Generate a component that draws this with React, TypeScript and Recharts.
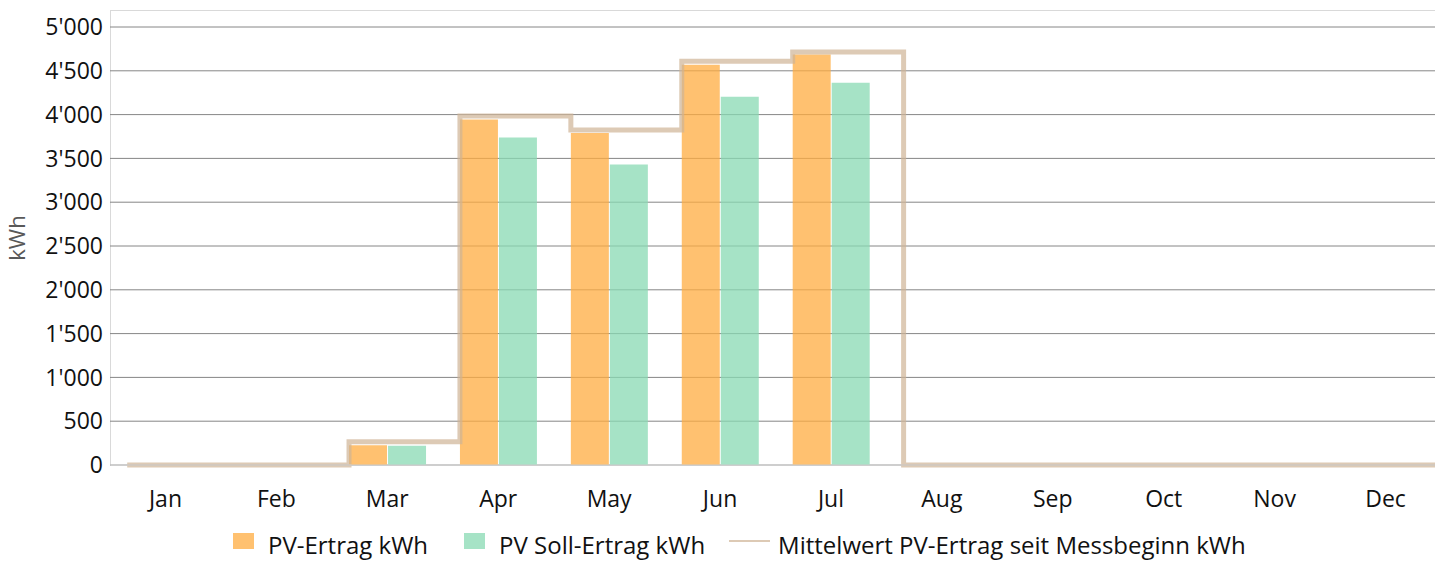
import React from "react";
import {
  Bar,
  CartesianGrid,
  ComposedChart,
  Legend,
  Line,
  XAxis,
  YAxis,
} from "recharts";

const MONTHS = ["Jan", "Feb", "Mar", "Apr", "May", "Jun", "Jul", "Aug", "Sep", "Oct", "Nov", "Dec"];
const PV_ERTRAG = [0, 0, 225, 3945, 3790, 4570, 4685, 0, 0, 0, 0, 0];
const PV_SOLL = [0, 0, 220, 3740, 3430, 4205, 4365, 0, 0, 0, 0, 0];
const MITTELWERT = [0, 0, 265, 3985, 3825, 4610, 4715, 0, 0, 0, 0, 0];
const Y_TICKS = [0, 500, 1000, 1500, 2000, 2500, 3000, 3500, 4000, 4500, 5000];

const FONT = "'Open Sans', sans-serif";
const ORANGE = "#FFAC40";
const GREEN = "#88DAB3";
const TAN = "#CEB395";
const TEXT = "#111";

// bar group gap on each side of a category (fraction of the band)
const GAP = 0.155;

const W = 1441;
const H = 561;

const barData = MONTHS.map((m, i) => ({
  month: m,
  ertrag: PV_ERTRAG[i],
  soll: PV_SOLL[i],
}));

// stepped mean line starts at the left edge of each bar group
const stepData = [
  ...MITTELWERT.map((v, i) => ({ x: i + GAP, mean: v })),
  { x: MONTHS.length, mean: MITTELWERT[MITTELWERT.length - 1] },
];

const fmt = (v: number) => String(v).replace(/\B(?=(\d{3})+(?!\d))/g, "'");

function YLabel({ viewBox }: any) {
  const cy = viewBox.y + viewBox.height / 2 - 8;
  return (
    <text
      x={25}
      y={cy}
      transform={`rotate(-90 25 ${cy})`}
      textAnchor="middle"
      fill="#595959"
      fontSize={22}
      fontFamily={FONT}
    >
      kWh
    </text>
  );
}

function LegendBox() {
  const sq = (c: string) => (
    <span
      style={{
        display: "inline-block",
        width: 21,
        height: 16,
        background: c,
        opacity: 0.75,
        marginRight: 14,
        position: "relative",
        top: -4,
      }}
    />
  );
  return (
    <div
      style={{
        height: 46,
        display: "flex",
        alignItems: "center",
        paddingLeft: 233,
        paddingTop: 13,
        boxSizing: "border-box",
        fontFamily: FONT,
        fontSize: 24,
        color: TEXT,
        whiteSpace: "nowrap",
      }}
    >
      {sq(ORANGE)}
      <span style={{ marginRight: 36 }}>PV-Ertrag kWh</span>
      {sq(GREEN)}
      <span style={{ marginRight: 24 }}>PV Soll-Ertrag kWh</span>
      <span
        style={{
          display: "inline-block",
          width: 41,
          height: 2,
          background: TAN,
          opacity: 0.7,
          marginRight: 8,
          position: "relative",
          top: -4,
        }}
      />
      <span>Mittelwert PV-Ertrag seit Messbeginn kWh</span>
    </div>
  );
}

export default function App() {
  return (
    <div
      style={{
        position: "absolute",
        left: 0,
        top: 0,
        width: 1435,
        height: H,
        overflow: "hidden",
        background: "#fff",
      }}
    >
      <div
        style={{
          position: "absolute",
          left: 110,
          top: 10,
          width: W - 110,
          height: 455,
          borderTop: "1px solid #d9d9d9",
          borderLeft: "1px solid #d9d9d9",
        }}
      />
      <div style={{ position: "absolute", left: 0, top: 0 }}>
        <ComposedChart
          width={W}
          height={H}
          data={barData}
          margin={{ top: 27, right: 0, left: 0, bottom: 0 }}
          barCategoryGap={`${GAP * 100}%`}
          barGap={1}
        >
          <CartesianGrid vertical={false} stroke="#868686" />
          <XAxis
            xAxisId="m"
            dataKey="month"
            height={50}
            tickLine={false}
            tickSize={0}
            tickMargin={26}
            axisLine={{ stroke: "#d9d9d9" }}
            tick={{ fill: TEXT, fontSize: 23, fontFamily: FONT }}
          />
          <XAxis
            xAxisId="step"
            dataKey="x"
            type="number"
            domain={[0, MONTHS.length]}
            hide
          />
          <YAxis
            width={110}
            domain={[0, 5000]}
            ticks={Y_TICKS}
            tickFormatter={fmt}
            axisLine={false}
            tickLine={false}
            tickSize={0}
            tickMargin={7}
            tick={{ fill: TEXT, fontSize: 23, fontFamily: FONT }}
            label={<YLabel />}
          />
          <Legend
            verticalAlign="bottom"
            content={() => <LegendBox />}
            wrapperStyle={{ left: 0, bottom: 0, width: W, height: 46 }}
          />
          <Bar
            xAxisId="m"
            dataKey="ertrag"
            name="PV-Ertrag kWh"
            fill={ORANGE}
            fillOpacity={0.75}
            isAnimationActive={false}
          />
          <Bar
            xAxisId="m"
            dataKey="soll"
            name="PV Soll-Ertrag kWh"
            fill={GREEN}
            fillOpacity={0.75}
            isAnimationActive={false}
          />
          <Line
            xAxisId="step"
            data={stepData}
            dataKey="mean"
            name="Mittelwert PV-Ertrag seit Messbeginn kWh"
            type="stepAfter"
            stroke={TAN}
            strokeOpacity={0.7}
            strokeWidth={5}
            dot={false}
            activeDot={false}
            isAnimationActive={false}
          />
        </ComposedChart>
      </div>
    </div>
  );
}
